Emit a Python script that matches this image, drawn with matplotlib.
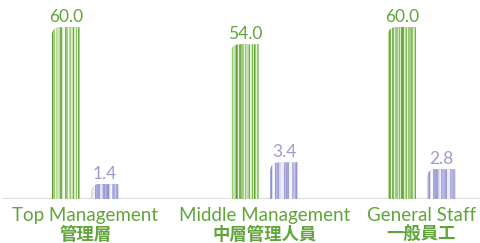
import matplotlib

matplotlib.use("Agg")
import matplotlib.pyplot as plt
import numpy as np
from matplotlib.path import Path
from matplotlib.patches import PathPatch
from matplotlib.transforms import blended_transform_factory

plt.rcParams["font.family"] = ["Lato", "Noto Sans CJK TC", "DejaVu Sans"]

# data
categories_en = ["Top Management", "Middle Management", "General Staff"]
categories_zh = ["管理層", "中層管理人員", "一般員工"]
green_values = [60.0, 54.0, 60.0]
purple_values = [1.4, 3.4, 2.8]

GREEN = "#b4d89a"
GREEN_TXT = "#62a43c"
PURPLE = "#c8c8ec"
PURPLE_TXT = "#9d9dd2"
GREEN_STRIPES = ["#5e9e32", "#dcefcc", "#7ab650", "#f4faee", "#6aa83e",
                 "#a2cc80", "#c8e2b2", "#ffffff", "#88c060", "#e8f4de",
                 "#9ccb78", "#5a9a2e"]
PURPLE_STRIPES = ["#9898d2", "#e4e4f6", "#a8a8da", "#ffffff", "#8c8cca",
                  "#b8b8e4", "#f0f0fa", "#a0a0d6"]
# hand-drawn look: irregular stripe widths (points)
STRIPE_W = [0.9, 0.4, 1.3, 0.6, 0.5, 1.1, 0.7, 0.4, 1.5, 0.5, 0.8, 0.6,
            1.2, 0.4, 0.7]

# layout (pixel coordinates on a 481 px wide axes)
centers = np.array([85.5, 264.5, 421.5])
offset = 19.75
bar_w = 28

fig = plt.figure(figsize=(4.81, 2.43), dpi=100)
ax = fig.add_axes([0, 44 / 243, 1, 199 / 243])
ax2 = ax.twinx()
ax.set_xlim(0, 481)
ax.set_ylim(0, 60 * 199 / 172)
ax2.set_ylim(0, 199 / 10.8)
for a in (ax, ax2):
    a.axis("off")


def textured(axis, xs, vals, base, stripes, radius=9, seed=0):
    bars = axis.bar(xs, vals, width=bar_w, color=base, linewidth=0)
    px_per_y = 199 / axis.get_ylim()[1]
    ry = radius / px_per_y
    for k, (rect, v) in enumerate(zip(bars, vals)):
        x0 = rect.get_x()
        x1 = x0 + rect.get_width()
        verts = [(x0, 0), (x0, v - ry), (x0, v), (x0 + radius, v),
                 (x1, v), (x1, 0), (x0, 0)]
        codes = [Path.MOVETO, Path.LINETO, Path.CURVE3, Path.CURVE3,
                 Path.LINETO, Path.LINETO, Path.CLOSEPOLY]
        clip = PathPatch(Path(verts, codes), transform=axis.transData,
                         facecolor="none", edgecolor="none")
        axis.add_patch(clip)
        rect.set_clip_path(clip)
        n = 26
        sx = np.linspace(x0 + 0.5, x1 - 0.5, n)
        cols = [stripes[(i * 5 + k * 3 + seed) % len(stripes)] for i in range(n)]
        lws = [STRIPE_W[(i * 7 + k * 2) % len(STRIPE_W)] for i in range(n)]
        lc = axis.vlines(sx, 0, v, colors=cols, linewidth=lws)
        lc.set_clip_path(clip)


textured(ax, centers - offset, green_values, GREEN, GREEN_STRIPES)
textured(ax2, centers + offset, purple_values, PURPLE, PURPLE_STRIPES, seed=1)

for x, v in zip(centers - offset, green_values):
    ax.annotate(f"{v:.1f}", (x, v), xytext=(0, 1.5), textcoords="offset points",
                ha="center", va="bottom", fontsize=12.5, color=GREEN_TXT)
for x, v in zip(centers + offset, purple_values):
    ax2.annotate(f"{v:.1f}", (x, v), xytext=(0, 1.5), textcoords="offset points",
                 ha="center", va="bottom", fontsize=12.5, color=PURPLE_TXT)

# baseline
ax.axhline(0, xmin=3 / 481, xmax=1, color="#dddddd", linewidth=1.6, zorder=0)

trans = blended_transform_factory(ax.transData, fig.transFigure)
for x, en, zh in zip(centers, categories_en, categories_zh):
    ax.text(x, 1 - 215 / 243, en, transform=trans, ha="center", va="center",
            fontsize=13.5, color=GREEN_TXT)
    ax.text(x, 1 - 234 / 243, zh, transform=trans, ha="center", va="center",
            fontsize=12.5, color=GREEN_TXT, fontweight="bold")

fig.savefig("out.png", dpi=100)
